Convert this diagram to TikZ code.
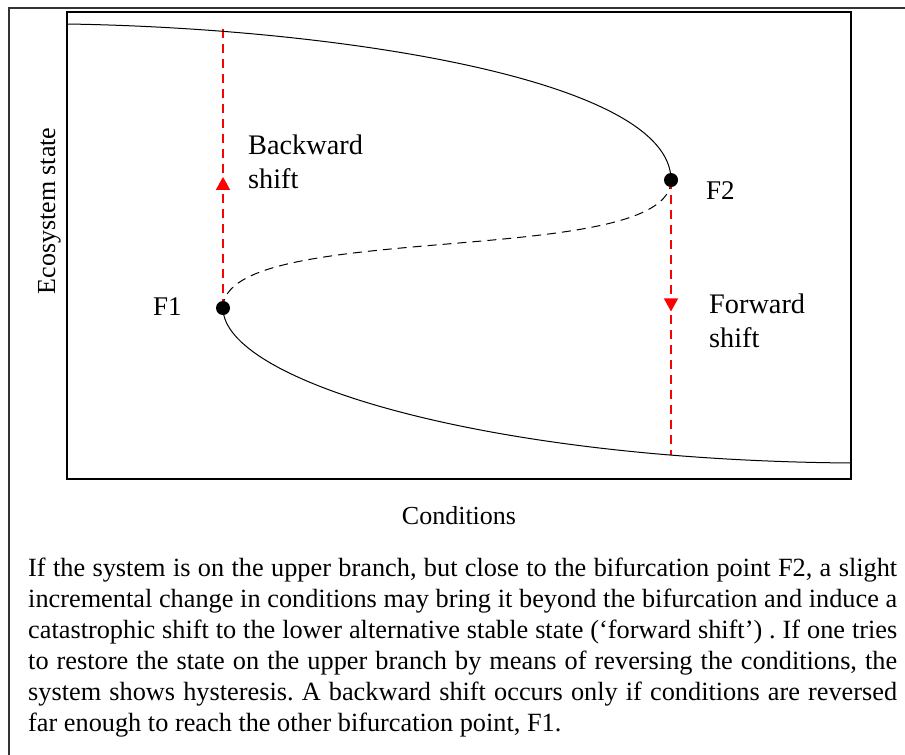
\documentclass[tikz,border=0pt]{standalone}
\usepackage{fontspec}
\setmainfont{Liberation Serif}
\usetikzlibrary{arrows.meta,decorations.markings}
\frenchspacing
\tikzset{
  frameline/.style={draw=black!80, line width=1.5pt},
  plotframe/.style={draw=black, line width=2pt},
  branch/.style={draw=black, line width=1pt},
  unstable/.style={draw=black, line width=1pt, dash pattern=on 9pt off 6pt},
  dotnode/.style={circle, fill=black, inner sep=0pt, minimum size=14pt},
  shiftline/.style={draw=red, line width=1.2pt, dash pattern=on 9pt off 6pt,
    postaction={decorate},
    decoration={markings, mark=at position #1 with {\arrow[red]{Triangle[width=14pt,length=13pt]}}}},
  flbl/.style={inner sep=0pt, font=\fontsize{27}{33}\selectfont},
  lbl/.style={inner sep=0pt, font=\fontsize{28.3}{33.5}\selectfont, align=left},
  axlbl/.style={inner sep=0pt, font=\fontsize{26}{30}\selectfont},
  bodytext/.style={inner sep=0pt, font=\fontsize{26.3}{31}\selectfont\frenchspacing, align=left}
}
\begin{document}
\begin{tikzpicture}[x=1pt,y=-1pt]
\useasboundingbox (0,0) rectangle (905,755);
\fill[white] (0,0) rectangle (905,755);
% outer frame
\draw[frameline] (9,755) -- (9,8) -- (905,8);
% plot frame
\draw[plotframe] (67,12) rectangle (851,479);
% points
\coordinate (upstart) at (67,24);
\coordinate (lowend) at (851,463);
\coordinate (topB) at (223,29);
\coordinate (botF) at (671,455);
\coordinate (F1c) at (223,308);
\coordinate (F2c) at (671,180);
% shifts
\draw[shiftline=0.47] (F1c) -- (topB);
\draw[shiftline=0.478] (F2c) -- (botF);
% branches
\draw[branch] (upstart) .. controls (330,28) and (671,78) .. (F2c);
\draw[unstable] (F2c) .. controls (671,270) and (223,218) .. (F1c);
\draw[branch] (F1c) .. controls (223,380) and (480,460) .. (lowend);
% dots
\node[dotnode] (F1) at (F1c) {};
\node[dotnode] (F2) at (F2c) {};
% labels
\node[flbl, anchor=base west] (F1lbl) at (153,315) {F1};
\node[flbl, anchor=base west] (F2lbl) at (706,199) {F2};
\node[lbl, anchor=base west] (bwd) at (248,188) {Backward\\shift};
\node[lbl, anchor=base west] (fwd) at (709,347) {Forward\\shift};
\node[axlbl, anchor=base] (xlab) at (459,524) {Conditions};
\node[axlbl, anchor=base, rotate=90] (ylab) at (55,211) {Ecosystem state};
% body
\node[bodytext, anchor=base west] (body) at (28,731) {%
\makebox[869pt][s]{If the system is on the upper branch, but close to the bifurcation point F2, a slight}\\
\makebox[869pt][s]{incremental change in conditions may bring it beyond the bifurcation and induce a}\\
\makebox[869pt][s]{catastrophic shift to the lower alternative stable state (`forward shift') . If one tries}\\
\makebox[869pt][s]{to restore the state on the upper branch by means of reversing the conditions, the}\\
\makebox[869pt][s]{system shows hysteresis. A backward shift occurs only if conditions are reversed}\\
far enough to reach the other bifurcation point, F1.};
\end{tikzpicture}
\end{document}
